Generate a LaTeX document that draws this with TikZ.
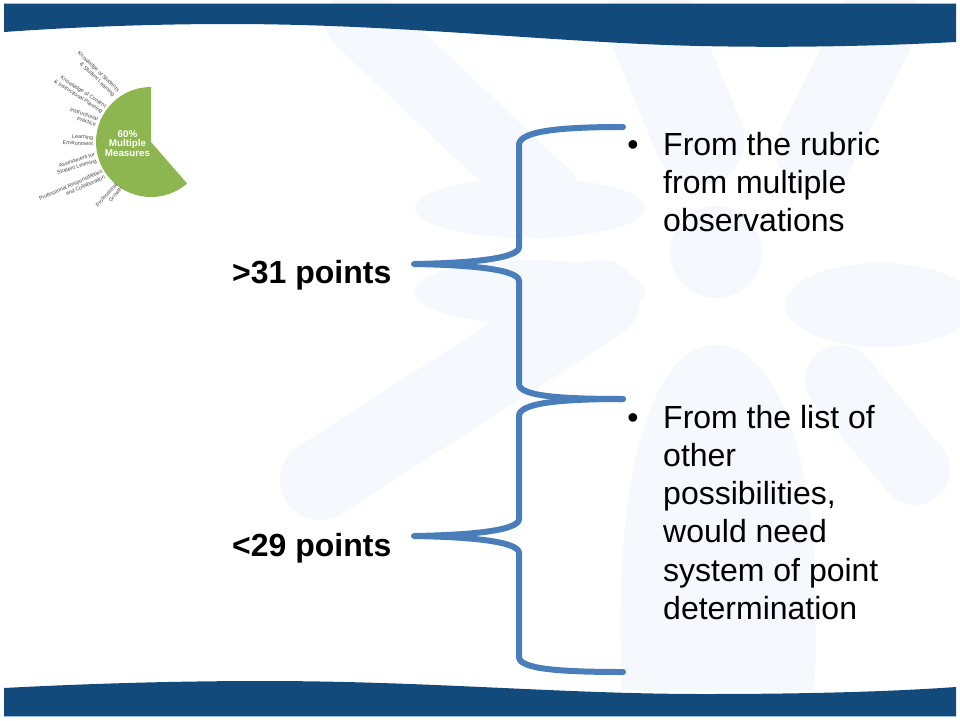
\documentclass[tikz,border=0pt]{standalone}
\usepackage{fontspec}
\setmainfont{Liberation Sans}
\definecolor{band}{RGB}{18,74,124}
\definecolor{bandedge}{RGB}{150,190,225}
\definecolor{bracecol}{RGB}{74,126,187}
\definecolor{piecol}{RGB}{141,182,80}
\definecolor{wm}{RGB}{245,249,253}
\definecolor{labcol}{RGB}{70,70,70}
\tikzset{
  bracestyle/.style={draw=bracecol, line width=6pt, line cap=round, line join=round},
  bigtext/.style={font=\fontsize{32}{38}\selectfont, inner sep=0pt, anchor=base west},
  bulletmark/.style={font=\fontsize{32}{38}\selectfont, inner sep=0pt, anchor=base},
  leftlab/.style={font=\bfseries\fontsize{32}{38}\selectfont, inner sep=0pt, anchor=base west},
  pielab/.style={font=\fontsize{5.4}{6.4}\selectfont, text=labcol, align=right, inner sep=0pt},
  pietext/.style={font=\bfseries\fontsize{9.8}{10}\selectfont, text=white, inner sep=0pt, anchor=base},
  wmfill/.style={fill=wm, draw=none},
  wmbeam/.style={draw=wm, line cap=round},
}
\begin{document}
\begin{tikzpicture}[x=1pt,y=-1pt]
\useasboundingbox (0,0) rectangle (960,720);
\fill[white] (0,0) rectangle (960,720);

% faint watermark
\draw[wmbeam, line width=70pt] (360,20) -- (545,195);
\draw[wmbeam, line width=80pt] (320,480) -- (600,300);
\draw[wmbeam, line width=90pt] (650,20) -- (700,140);
\draw[wmbeam, line width=80pt] (880,20) -- (815,150);
\draw[wmbeam, line width=70pt] (840,380) -- (915,470);
\fill[wmfill] (530,208) ellipse[x radius=115, y radius=30];
\fill[wmfill] (530,292) ellipse[x radius=115, y radius=32];
\fill[wmfill] (880,305) ellipse[x radius=95, y radius=42];
\fill[wmfill] (716,252) circle[radius=46];
\fill[wmfill] (622,690) .. controls (612,480) and (650,345) .. (716,345)
  .. controls (782,345) and (828,480) .. (814,690) -- cycle;

% bands
\fill[band] (4,3) -- (956,3) -- (956,42) .. controls (880,46) and (790,48) .. (700,46)
  .. controls (560,43) and (400,24) .. (230,24) .. controls (140,24) and (60,28) .. (4,32) -- cycle;
\draw[bandedge, line width=0.8pt] (4,3) -- (956,3);
\fill[band] (4,688) .. controls (80,684) and (170,681) .. (263,681)
  .. controls (430,681) and (560,694) .. (704,694) .. controls (820,694) and (900,691) .. (956,687)
  -- (956,716) -- (4,716) -- cycle;
\draw[bandedge, line width=0.8pt] (4,716) -- (956,716);

% pie
\coordinate (pc) at (151,142);
\fill[piecol] (pc) -- (151,87) arc[start angle=270, end angle=49, radius=55] -- cycle;
\node[pietext] (p1) at (127.5,137.5) {60\%};
\node[pietext] (p2) at (127.5,146.8) {Multiple};
\node[pietext] (p3) at (127.5,156) {Measures};

\node[pielab, rotate=-44] (l1) at (96,74) {Knowledge of Students\\\& Student Learning};
\node[pielab, rotate=-33] (l2) at (80,94) {Knowledge of Content\\\& Instructional Planning};
\node[pielab, rotate=-19] (l3) at (83,117) {Instructional\\Practice};
\node[pielab, rotate=-2] (l4) at (78,140) {Learning\\Environment};
\node[pielab, rotate=17] (l5) at (76,164) {Assessment for\\Student Learning};
\node[pielab, rotate=24] (l6) at (72,188) {Professional Responsibilities\\and Collaboration};
\node[pielab, rotate=48] (l7) at (109,197) {Professional\\Growth};

% left labels
\node[leftlab] (gt) at (232,283) {>31 points};
\node[leftlab] (lt) at (232,556) {<29 points};

% braces
\coordinate (b1t) at (623,127);
\coordinate (b1tip) at (414,264);
\coordinate (b1b) at (623,399);
\coordinate (b2tip) at (414,536);
\coordinate (b2b) at (623,672);
\draw[bracestyle] (b1t) .. controls (560,127) and (519,131) .. (519,145) -- (519,247)
  .. controls (519,258) and (475,263) .. (b1tip)
  .. controls (475,265) and (519,270) .. (519,281) -- (519,384)
  .. controls (519,396) and (560,399) .. (b1b);
\draw[bracestyle] (b1b) .. controls (560,399) and (519,403) .. (519,416) -- (519,519)
  .. controls (519,530) and (475,535) .. (b2tip)
  .. controls (475,537) and (519,542) .. (519,553) -- (519,657)
  .. controls (519,669) and (560,672) .. (b2b);

% bullet texts
\node[bulletmark] (m1) at (633,155) {•};
\node[bigtext] (a1) at (663,155) {From the rubric};
\node[bigtext] (a2) at (663,193.3) {from multiple};
\node[bigtext] (a3) at (663,231.6) {observations};

\node[bulletmark] (m2) at (633,428) {•};
\node[bigtext] (c1) at (663,428) {From the list of};
\node[bigtext] (c2) at (663,466.3) {other};
\node[bigtext] (c3) at (663,504.6) {possibilities,};
\node[bigtext] (c4) at (663,542.9) {would need};
\node[bigtext] (c5) at (663,581.2) {system of point};
\node[bigtext] (c6) at (663,619.5) {determination};
\end{tikzpicture}
\end{document}
